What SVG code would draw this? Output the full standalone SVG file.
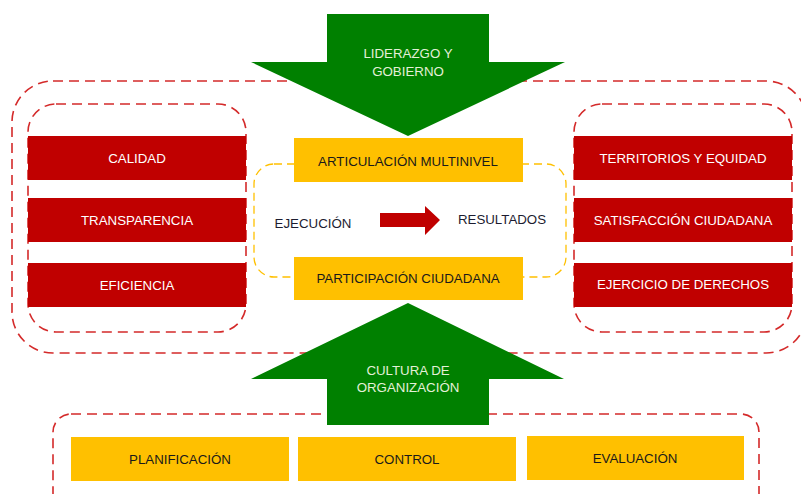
<svg xmlns="http://www.w3.org/2000/svg" width="801" height="494" viewBox="0 0 801 494">
<style>
.red{fill:#C00000}
.yel{fill:#FFC000}
.grn{fill:#008000}
.dash{fill:none;stroke:#D42A2A;stroke-width:1.6;stroke-dasharray:10 6}
.ydash{fill:none;stroke:#FFC000;stroke-width:1.3;stroke-dasharray:8 5}
text{font-family:"Liberation Sans",Arial,sans-serif;font-size:13.3px;text-anchor:middle}
.w{fill:#FFFFFF}
.d{fill:#1A1A1A}
.g{fill:#E4F0D8}
.n{fill:#1C1C30}
</style>
<g id="frames">
<rect class="dash" x="12" y="81" width="795" height="272" rx="41"/>
<rect class="dash" x="28" y="104" width="218" height="228" rx="28"/>
<rect class="dash" x="574" y="104" width="218" height="228" rx="28"/>
<rect class="ydash" x="254" y="164" width="312" height="113" rx="20"/>
<rect class="dash" x="53" y="414" width="706" height="100" rx="18"/>
</g>
<g id="liderazgo">
<polygon class="grn" points="327,14 489,14 489,62 565,62 408,136 251,62 327,62"/>
<text class="g" x="408" y="58">LIDERAZGO Y</text>
<text class="g" x="408" y="76">GOBIERNO</text>
</g>
<g id="cultura">
<polygon class="grn" points="408,303 564,379 489,379 489,425 327,425 327,379 251,379"/>
<text class="g" x="408" y="375">CULTURA DE</text>
<text class="g" x="408" y="392">ORGANIZACIÓN</text>
</g>
<g id="calidad"><rect class="red" x="28" y="136" width="218" height="44"/><text class="w" x="137" y="163">CALIDAD</text></g>
<g id="transparencia"><rect class="red" x="28" y="198" width="218" height="44"/><text class="w" x="137" y="225">TRANSPARENCIA</text></g>
<g id="eficiencia"><rect class="red" x="28" y="263" width="218" height="44"/><text class="w" x="137" y="290">EFICIENCIA</text></g>
<g id="territorios"><rect class="red" x="574" y="136" width="218" height="44"/><text class="w" x="683" y="163">TERRITORIOS Y EQUIDAD</text></g>
<g id="satisfaccion"><rect class="red" x="574" y="198" width="218" height="44"/><text class="w" x="683" y="225">SATISFACCIÓN CIUDADANA</text></g>
<g id="derechos"><rect class="red" x="574" y="263" width="218" height="44"/><text class="w" x="683" y="289">EJERCICIO DE DERECHOS</text></g>
<g id="articulacion"><rect class="yel" x="294" y="138" width="229" height="44"/><text class="d" x="408" y="166">ARTICULACIÓN MULTINIVEL</text></g>
<g id="participacion"><rect class="yel" x="294" y="257" width="229" height="43"/><text class="d" x="408" y="283">PARTICIPACIÓN CIUDADANA</text></g>
<g id="ejecucion"><text class="n" x="313" y="228">EJECUCIÓN</text></g>
<g id="resultados"><text class="n" x="502" y="224">RESULTADOS</text></g>
<g id="connectors">
<polygon class="red" points="380,213 425,213 425,206 440,220 425,235 425,227 380,227"/>
</g>
<g id="planificacion"><rect class="yel" x="71" y="437" width="218" height="44"/><text class="d" x="180" y="464">PLANIFICACIÓN</text></g>
<g id="control"><rect class="yel" x="298" y="437" width="218" height="44"/><text class="d" x="407" y="464">CONTROL</text></g>
<g id="evaluacion"><rect class="yel" x="527" y="436" width="217" height="44"/><text class="d" x="635" y="463">EVALUACIÓN</text></g>
</svg>
